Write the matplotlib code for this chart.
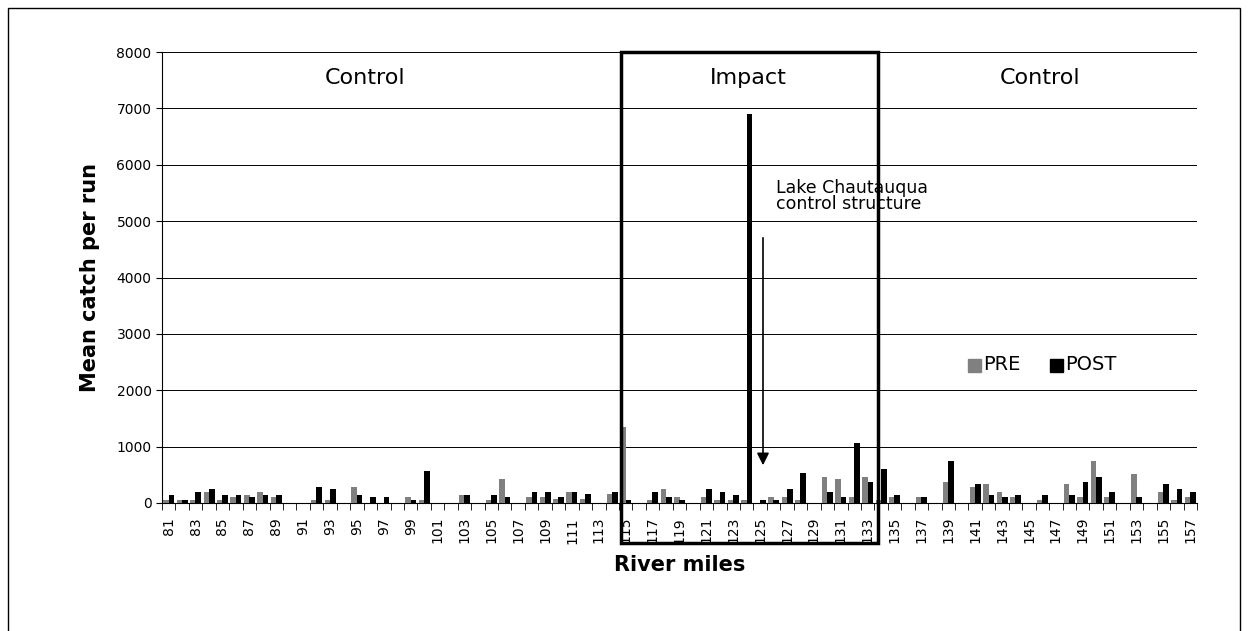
import numpy as np
import matplotlib.pyplot as plt
from matplotlib.patches import Rectangle

miles = list(range(81, 158))
pre = [60, 50, 60, 200, 60, 100, 150, 200, 100, 0, 0, 60, 60, 0, 290, 0, 0, 0, 100, 60,
       0, 0, 150, 0, 60, 430, 0, 110, 110, 70, 200, 70, 0, 160, 1350, 0, 60, 250, 100, 0,
       100, 60, 60, 60, 0, 100, 100, 60, 0, 470, 430, 100, 470, 60, 100, 0, 100, 0, 380, 0,
       290, 330, 200, 100, 0, 60, 0, 330, 100, 750, 100, 0, 520, 0, 200, 60, 100]
post = [150, 50, 200, 240, 150, 150, 100, 150, 150, 0, 0, 290, 240, 0, 150, 100, 100, 0, 60, 560,
        0, 0, 150, 0, 150, 100, 0, 200, 200, 110, 200, 160, 0, 200, 60, 0, 200, 100, 60, 0,
        250, 200, 150, 6900, 60, 60, 250, 530, 0, 200, 100, 1070, 380, 600, 150, 0, 100, 0, 750, 0,
        330, 150, 100, 150, 0, 150, 0, 150, 380, 470, 200, 0, 100, 0, 330, 240, 200]
yticks = list(range(0, 8001, 1000))

fig = plt.figure(figsize=(12.48, 6.31), dpi=100)
ax = fig.add_axes([162 / 1248, 1 - 503 / 631, (1197 - 162) / 1248, (503 - 52) / 631])

x = np.arange(len(miles))
ax.bar(x - 0.2, pre, width=0.42, color='#808080', zorder=3)
ax.bar(x + 0.2, post, width=0.42, color='black', zorder=3)

ax.set_xlim(-0.5, len(miles) - 0.5)
ax.set_ylim(0, 8000)
ax.set_yticks(yticks)
ax.set_yticklabels([str(v) for v in yticks], fontsize=10)
ax.yaxis.grid(True, color='black', linewidth=0.7)
ax.set_axisbelow(True)
ax.set_xticks(x[::2])
ax.set_xticklabels([str(m) for m in miles[::2]], rotation=90, fontsize=10)
ax.set_xticks(np.arange(-0.5, len(miles), 1), minor=True)
ax.tick_params(axis='x', which='major', length=0, pad=10)
ax.tick_params(axis='x', which='minor', length=5, direction='out')
ax.tick_params(axis='y', length=4)
for s in ['top', 'right']:
    ax.spines[s].set_visible(False)
ax.set_ylabel('Mean catch per run', fontsize=15, fontweight='bold', labelpad=12)
ax.set_xlabel('River miles', fontsize=15, fontweight='bold', labelpad=8)

def fx(px):
    return px / 1248

def fy(py):
    return 1 - py / 631

fig.text(fx(365), fy(78), 'Control', fontsize=16, ha='center', va='center')
fig.text(fx(748), fy(78), 'Impact', fontsize=16, ha='center', va='center')
fig.text(fx(1040), fy(78), 'Control', fontsize=16, ha='center', va='center')
fig.text(fx(776), fy(196), 'Lake Chautauqua\ncontrol structure', fontsize=12.5,
         ha='left', va='center', linespacing=0.9)

fig.patches.append(Rectangle((fx(621), fy(543)), fx(878 - 621), (543 - 52) / 631,
                             transform=fig.transFigure, fill=False, lw=2.5, ec='black'))
ax.annotate('', xy=(fx(763), fy(468)), xycoords='figure fraction',
            xytext=(fx(763), fy(235)), textcoords='figure fraction',
            arrowprops=dict(arrowstyle='-|>', color='black', lw=1.2, mutation_scale=18))

fig.patches.append(Rectangle((fx(968), fy(372)), fx(13), 13 / 631, transform=fig.transFigure,
                             color='#808080'))
fig.text(fx(983), fy(365), 'PRE', fontsize=14, va='center')
fig.patches.append(Rectangle((fx(1050), fy(372)), fx(13), 13 / 631, transform=fig.transFigure,
                             color='black'))
fig.text(fx(1065), fy(365), 'POST', fontsize=14, va='center')

fig.patches.append(Rectangle((fx(8), -0.1), fx(1240 - 8), fy(8) + 0.1, transform=fig.transFigure,
                             fill=False, lw=1, ec='black'))

fig.savefig('out.png', dpi=100)
